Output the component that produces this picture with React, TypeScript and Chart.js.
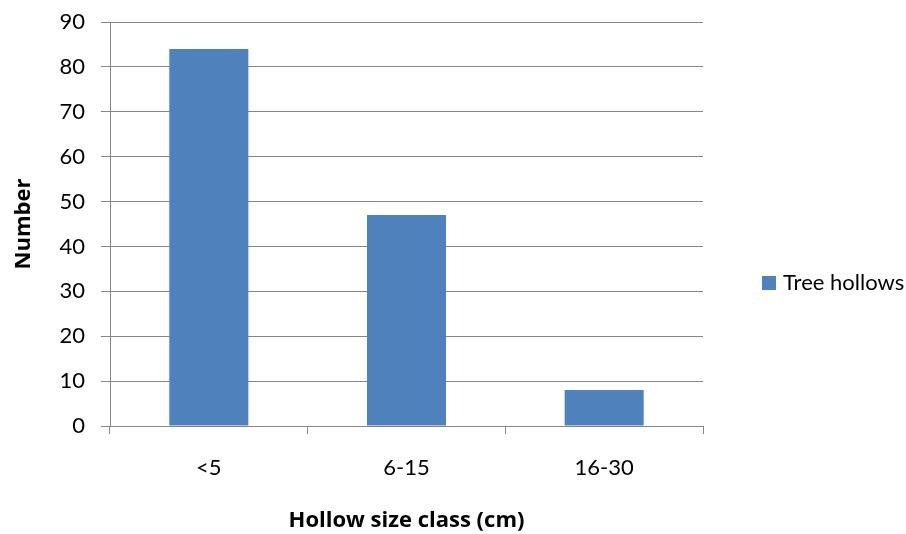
import React, { useEffect, useRef } from "react";
import { Chart, registerables } from "chart.js";

Chart.register(...registerables);

const categories = ["<5", "6-15", "16-30"];
const treeHollows = [84, 47, 8];
const seriesLabel = "Tree hollows";
const xTitle = "Hollow size class (cm)";
const yTitle = "Number";

const FONT = "Lato, 'Open Sans', sans-serif";
const TITLE_FONT = "'Open Sans', Lato, sans-serif";
const BAR = "#4F81BD";
const GRID = "#868686";

const legendPlugin = {
  id: "sideLegend",
  afterDraw(chart: any) {
    const ctx = chart.ctx;
    const area = chart.chartArea;
    const ds = chart.data.datasets[0];
    const cy = (area.top + area.bottom) / 2 + 59;
    const x0 = area.right + 59;
    ctx.save();
    ctx.fillStyle = ds.backgroundColor;
    ctx.fillRect(x0, cy - 7, 14, 14);
    ctx.fillStyle = "#000";
    ctx.font = `22px ${FONT}`;
    ctx.textBaseline = "middle";
    ctx.textAlign = "left";
    ctx.fillText(ds.label, x0 + 21, cy);
    ctx.restore();
  },
};

export default function App() {
  const ref = useRef<HTMLCanvasElement>(null);
  useEffect(() => {
    if (!ref.current) return;
    const chart = new Chart(ref.current, {
      type: "bar",
      data: {
        labels: categories,
        datasets: [
          {
            label: seriesLabel,
            data: treeHollows,
            backgroundColor: BAR,
            borderWidth: 0,
            barPercentage: 0.4,
            categoryPercentage: 1,
          },
        ],
      },
      options: {
        responsive: false,
        animation: false,
        layout: { padding: { top: 22, right: 203, left: 0, bottom: 0 } },
        plugins: { legend: { display: false }, tooltip: { enabled: false } },
        scales: {
          x: {
            offset: true,
            grid: {
              offset: true,
              drawOnChartArea: false,
              drawTicks: true,
              tickLength: 8,
              color: GRID,
            },
            border: { display: true, color: GRID },
            ticks: { color: "#000", font: { family: FONT, size: 22 }, padding: 21 },
            title: {
              display: true,
              text: xTitle,
              color: "#000",
              font: { family: TITLE_FONT, size: 22, weight: "bold" },
              padding: { top: 0, bottom: 0 },
            },
            afterFit: (scale: any) => {
              scale.height = 108;
              scale.paddingLeft = 0;
              scale.paddingRight = 0;
            },
          },
          y: {
            min: 0,
            max: 90,
            ticks: { stepSize: 10, color: "#000", font: { family: FONT, size: 22 }, padding: 16 },
            grid: { color: GRID, tickLength: 9 },
            border: { display: true, color: GRID },
            title: {
              display: true,
              text: yTitle,
              color: "#000",
              font: { family: TITLE_FONT, size: 22, weight: "bold" },
              padding: { top: 11, bottom: 0 },
            },
            afterFit: (scale: any) => {
              scale.width = 110;
              scale.paddingTop = 0;
              scale.paddingBottom = 0;
            },
          },
        },
      },
      plugins: [legendPlugin],
    });
    return () => chart.destroy();
  }, []);
  return (
    <div style={{ position: "fixed", left: 0, top: 0, width: 906, height: 534, background: "#fff" }}>
      <canvas ref={ref} width={906} height={534} />
    </div>
  );
}
